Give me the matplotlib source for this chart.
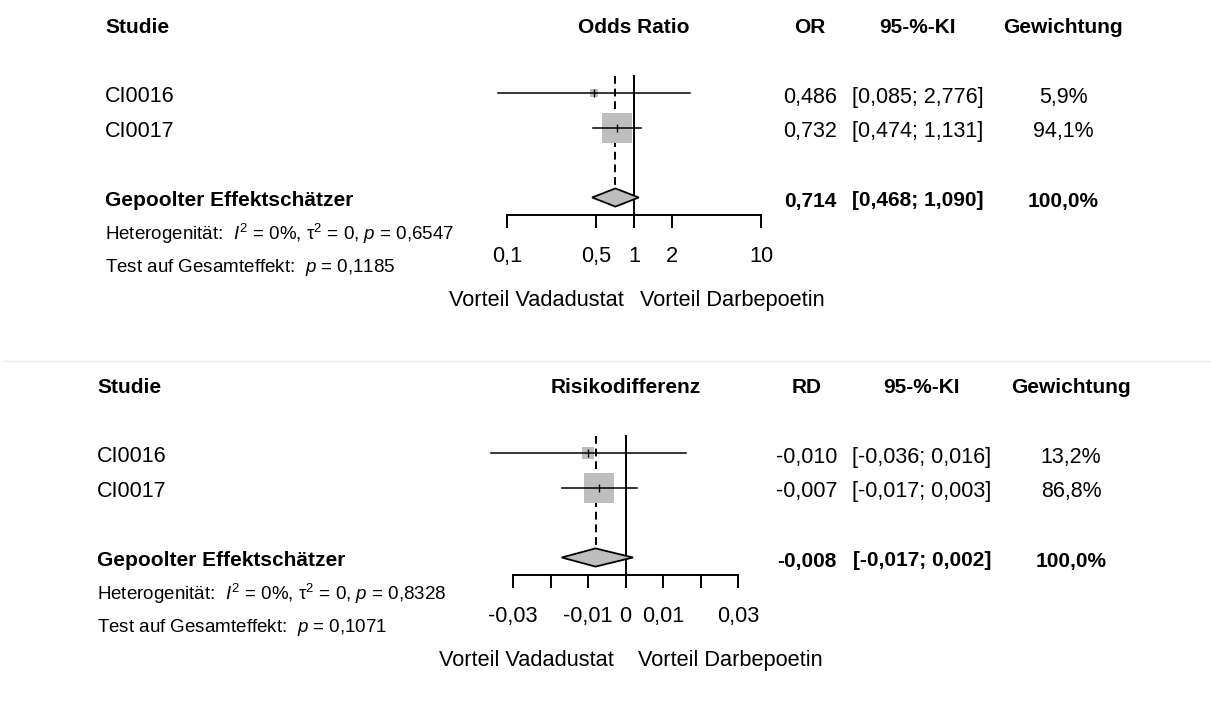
import numpy as np
import matplotlib
matplotlib.use("Agg")
import matplotlib.pyplot as plt
from matplotlib.lines import Line2D
from matplotlib.patches import Polygon
from matplotlib import transforms

plt.rcParams["font.family"] = ["Liberation Sans", "DejaVu Sans"]
plt.rcParams["mathtext.fontset"] = "custom"
plt.rcParams["mathtext.rm"] = "Liberation Sans"
plt.rcParams["mathtext.it"] = "Liberation Sans:italic"
plt.rcParams["mathtext.bf"] = "Liberation Sans:bold"

# ---- data -------------------------------------------------------------
studies = ["CI0016", "CI0017"]

or_est = [0.486, 0.732]
or_lo = [0.085, 0.474]
or_hi = [2.776, 1.131]
or_weight = [5.9, 94.1]
or_pooled = [0.714, 0.468, 1.090]
or_het = ["0%", "0", "0,6547"]
or_p_overall = "0,1185"
or_ticks = [0.1, 0.5, 1, 2, 10]
or_ticklabels = ["0,1", "0,5", "1", "2", "10"]

rd_est = [-0.010, -0.007]
rd_lo = [-0.036, -0.017]
rd_hi = [0.016, 0.003]
rd_weight = [13.2, 86.8]
rd_pooled = [-0.008, -0.017, 0.002]
rd_het = ["0%", "0", "0,8328"]
rd_p_overall = "0,1071"
rd_ticks = [-0.03, -0.02, -0.01, 0, 0.01, 0.02, 0.03]
rd_ticklabels = ["-0,03", "", "-0,01", "0", "0,01", "", "0,03"]

label_left = "Vorteil Vadadustat"
label_right = "Vorteil Darbepoetin"

# ---- layout -----------------------------------------------------------
W, H = 1211, 716
DPI = 100
fig = plt.figure(figsize=(W / DPI, H / DPI), dpi=DPI)

FS = 15.5       # regular text
FS_B = 15       # bold headings
FS_LAB = 15.7   # direction labels and tick labels
FS_SMALL = 13.5
GREY = "#bebebe"


def fx(x):
    return x / W


def fy(y):
    return 1 - y / H


def fmt(v):
    return f"{v:.3f}".replace(".", ",")


def forest(panel):
    ax_l, ax_r, ax_t, ax_b = panel["axes_px"]
    ax = fig.add_axes([fx(ax_l), fy(ax_b), fx(ax_r - ax_l), (ax_b - ax_t) / H])
    if panel["log"]:
        ax.set_xscale("log")
    ax.set_xlim(panel["ticks"][0], panel["ticks"][-1])
    ax.set_ylim(4.5, 0.5)
    for s in ["top", "left", "right"]:
        ax.spines[s].set_visible(False)
    ax.spines["bottom"].set_linewidth(1.4)
    ax.set_yticks([])
    ax.set_xticks(panel["ticks"])
    ax.set_xticklabels(panel["ticklabels"])
    ax.xaxis.set_minor_locator(matplotlib.ticker.NullLocator())
    ax.tick_params(axis="x", direction="out", length=9.4, width=1.4,
                   pad=13, labelsize=FS_LAB)
    ax.patch.set_alpha(0)

    est, lo, hi, wts = panel["est"], panel["lo"], panel["hi"], panel["w"]
    rows = [1, 2]
    wmax = max(wts)
    for r, e, l, h, w in zip(rows, est, lo, hi, wts):
        ax.plot([e], [r], marker="s", ms=20.9 * np.sqrt(w / wmax),
                color=GREY, mew=0, clip_on=False, zorder=2)
        ax.plot([l, h], [r, r], color="black", lw=1.1, clip_on=False, zorder=3)
        ax.plot([e], [r], marker="|", ms=6, mew=1.0, color="black",
                clip_on=False, zorder=4)

    pe, pl, ph = panel["pooled"]
    dh = 0.26
    ax.add_patch(Polygon([[pl, 4], [pe, 4 - dh], [ph, 4], [pe, 4 + dh]],
                         closed=True, facecolor=GREY, edgecolor="black",
                         lw=1.3, clip_on=False, zorder=3))
    ax.axvline(panel["ref"], color="black", lw=1.4, zorder=1)
    ax.plot([pe, pe], [0.52, 4 - dh], color="black", lw=1.4,
            linestyle=(0, (4, 2.5)), zorder=1)

    # text columns
    lx = panel["left_x"]
    cx = panel["cols"]
    top = ax_t
    yh = top - 42
    yr = [top + 27.5, top + 62]
    yp = top + 131.5
    fig.text(fx(lx), fy(yh), "Studie", fontsize=FS_B, fontweight="bold", va="baseline")
    fig.text(fx((ax_l + ax_r) / 2), fy(yh), panel["title"], fontsize=FS_B,
             fontweight="bold", va="baseline", ha="center")
    for x, t in zip(cx, [panel["measure"], "95-%-KI", "Gewichtung"]):
        fig.text(fx(x), fy(yh), t, fontsize=FS_B, fontweight="bold",
                 va="baseline", ha="center")
    for y, name, e, l, h, w in zip(yr, studies, est, lo, hi, wts):
        fig.text(fx(lx), fy(y), name, fontsize=FS, va="baseline")
        fig.text(fx(cx[0]), fy(y), fmt(e), fontsize=FS, va="baseline", ha="center")
        fig.text(fx(cx[1]), fy(y), f"[{fmt(l)}; {fmt(h)}]", fontsize=FS,
                 va="baseline", ha="center")
        fig.text(fx(cx[2]), fy(y), f"{w:.1f}%".replace(".", ","), fontsize=FS,
                 va="baseline", ha="center")
    fig.text(fx(lx), fy(yp), "Gepoolter Effektschätzer", fontsize=FS_B,
             fontweight="bold", va="baseline")
    fig.text(fx(cx[0]), fy(yp), fmt(pe), fontsize=FS_B, fontweight="bold",
             va="baseline", ha="center")
    fig.text(fx(cx[1]), fy(yp), f"[{fmt(pl)}; {fmt(ph)}]", fontsize=FS_B,
             fontweight="bold", va="baseline", ha="center")
    fig.text(fx(cx[2]), fy(yp), "100,0%", fontsize=FS_B, fontweight="bold",
             va="baseline", ha="center")

    i2, t2, ph_ = panel["het"]
    fig.text(fx(lx), fy(top + 164.5),
             f"Heterogenität:  $\\mathit{{I}}^{{2}}$ = {i2}, τ$^{{2}}$ = {t2}, "
             f"$\\mathit{{p}}$ = {ph_}",
             fontsize=FS_SMALL, va="baseline")
    fig.text(fx(lx), fy(top + 197),
             f"Test auf Gesamteffekt:  $\\mathit{{p}}$ = {panel['p_overall']}",
             fontsize=FS_SMALL, va="baseline")

    # direction labels either side of the reference line
    yv = fy(top + 231)
    tl = transforms.blended_transform_factory(
        transforms.offset_copy(ax.transData, fig=fig, x=-panel["gap"][0], units="dots"),
        fig.transFigure)
    tr = transforms.blended_transform_factory(
        transforms.offset_copy(ax.transData, fig=fig, x=panel["gap"][1], units="dots"),
        fig.transFigure)
    fig.text(panel["ref"], yv, label_left, fontsize=FS_LAB, va="baseline",
             ha="right", transform=tl)
    fig.text(panel["ref"], yv, label_right, fontsize=FS_LAB, va="baseline",
             ha="left", transform=tr)
    return ax


forest(dict(axes_px=(507, 761, 75, 215), log=True, ticks=or_ticks,
            ticklabels=or_ticklabels, est=or_est, lo=or_lo, hi=or_hi,
            w=or_weight, pooled=or_pooled, ref=1, title="Odds Ratio",
            measure="OR", het=or_het, p_overall=or_p_overall,
            left_x=105, cols=(810, 918, 1063), gap=(10, 6)))

forest(dict(axes_px=(513, 738, 435, 575), log=False, ticks=rd_ticks,
            ticklabels=rd_ticklabels, est=rd_est, lo=rd_lo, hi=rd_hi,
            w=rd_weight, pooled=rd_pooled, ref=0, title="Risikodifferenz",
            measure="RD", het=rd_het, p_overall=rd_p_overall,
            left_x=97, cols=(807, 922, 1071), gap=(12, 12)))

# thin divider between the two panels
fig.add_artist(Line2D([fx(4), 1], [fy(361), fy(361)], color="#ebebeb", lw=1))

fig.savefig("out.png", dpi=DPI, facecolor="white")
